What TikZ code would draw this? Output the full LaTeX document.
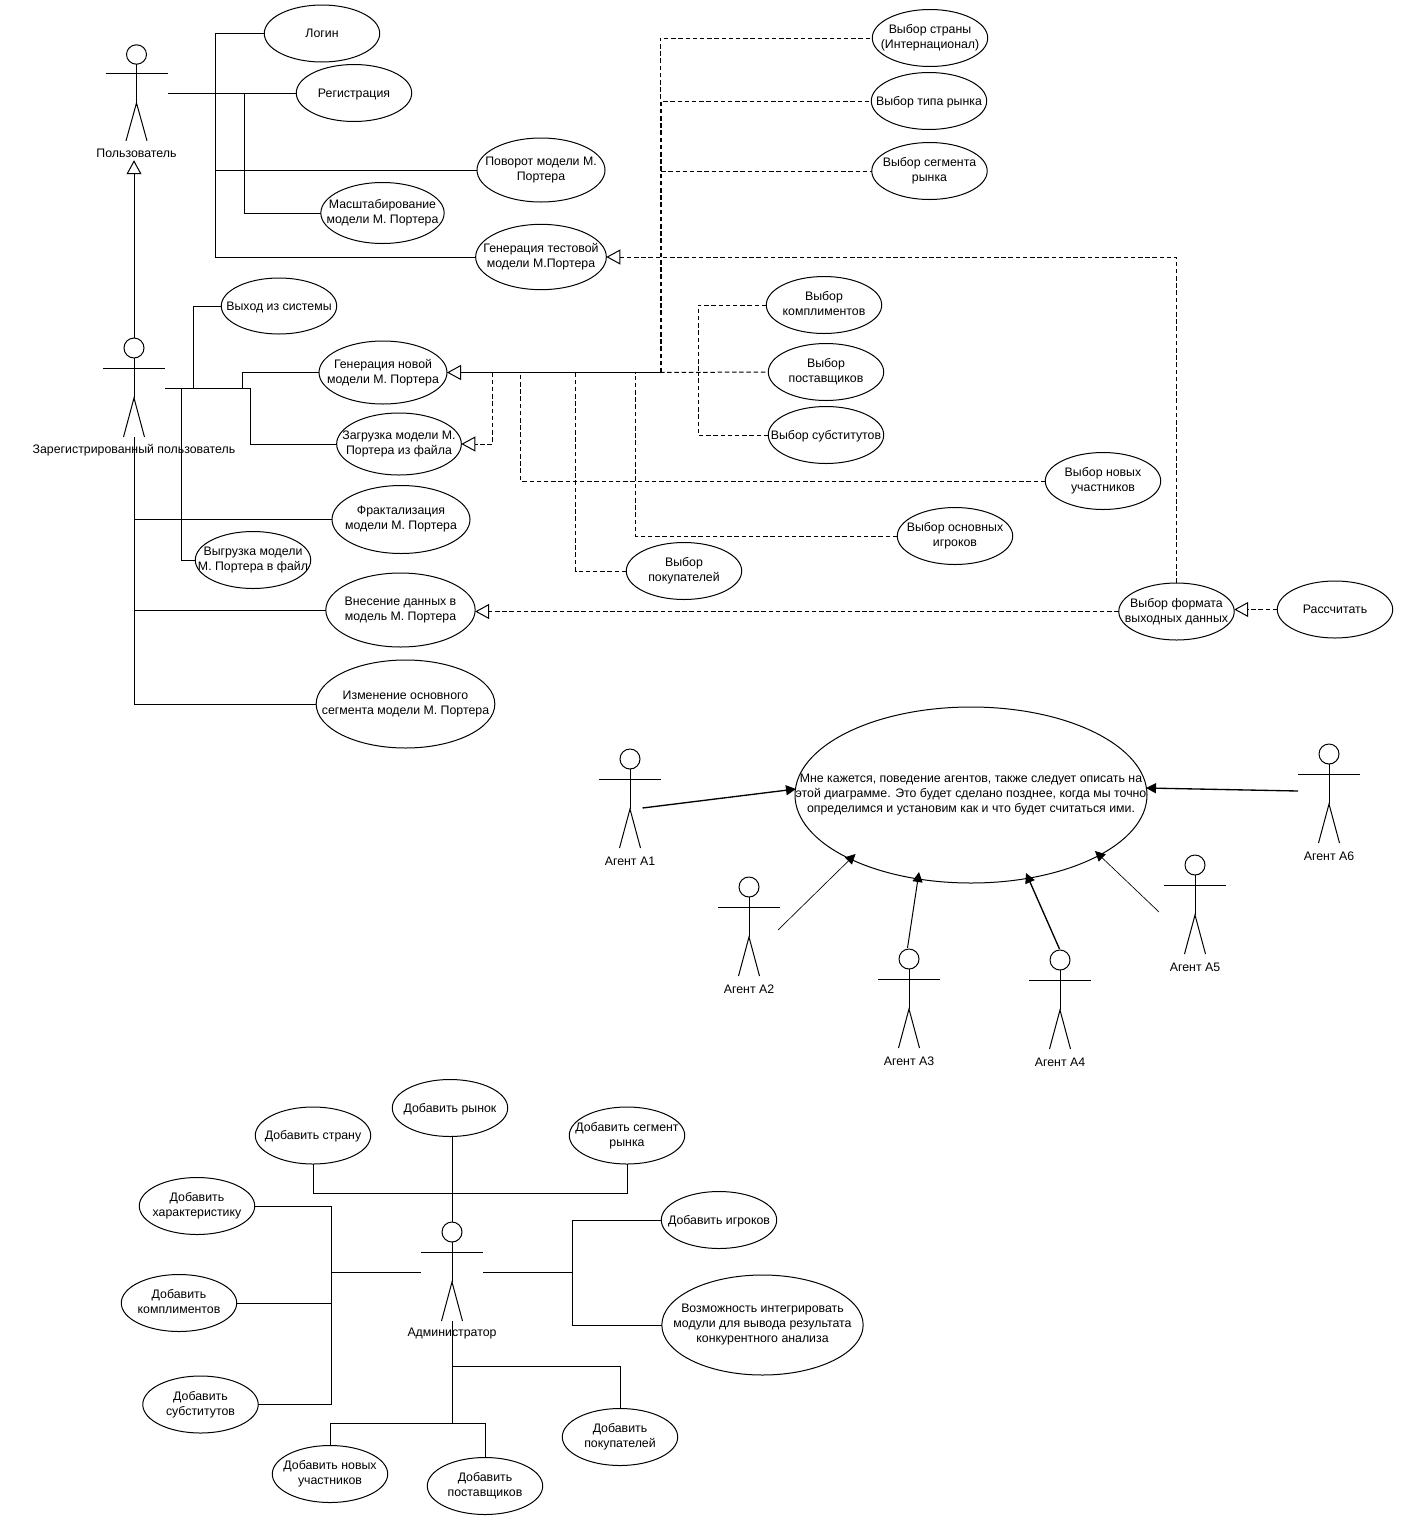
\documentclass[tikz,border=0pt]{standalone}
\usepackage{fontspec}
\setmainfont{Liberation Sans}
\usetikzlibrary{arrows.meta,shapes.geometric}
\tikzset{
	usecase/.style = {draw, ellipse, align=center, inner sep=-50pt, outer sep=0pt, minimum width=86.6pt, minimum height=42.75pt,
		execute at begin node={\rule{0pt}{8.5pt}}, execute at end node={\rule[-2pt]{0pt}{0pt}}},
	assoc/.style = {-{Triangle[length=7.5pt,width=7.5pt]}},
	gen/.style = {-{Triangle[open,length=10.5pt,width=11.25pt]}},
	dep/.style = {dash pattern=on 3.4pt off 2pt},
	actor/.pic = {
		\draw (0,0) circle (7.5pt);
		\draw (0,10) -- (0,50) (-31,20) -- (31,20);
		\draw (-10.5,89) -- (0,50) -- (10.5,89);
		\coordinate (-top) at (0,-10);
		\coordinate (-bot) at (0,89);
		\coordinate (-left) at (-31,40);
		\coordinate (-right) at (31,40);
		\coordinate (-under) at (0,109);
		\node[inner sep=0pt] (-label) at (0,102) {#1};
	}
}
\begin{document}
\begin{tikzpicture}[x=.75pt, y=-.75pt, line width=.75pt, font=\fontsize{9.25}{11.25}\selectfont]
\useasboundingbox (0,0) rectangle (1413,1535);
%user
\pic[yscale=.97] (user) at (136.5,54.5) {actor={Пользователь}};
\node[usecase] (login) at (322,33.5) {Логин};
\node[usecase] (regist) at (354,93) {Регистрация};
\node[usecase, minimum width=96pt, minimum height=48pt] (turn) at (541,170) {Поворот модели М.\\Портера};
\node[usecase, minimum width=92.5pt, minimum height=45.75pt] (zoom) at (382.5,213) {Масштабирование\\модели М. Портера};
\node[usecase, minimum width=98pt, minimum height=49pt] (gentest) at (541,257) {Генерация тестовой\\модели М.Портера};
\coordinate (ubus) at (215.5,93);
\coordinate (zbus) at (244.5,93);
\draw (user-right) -- (user-right -| regist.west);
\draw (login.west) -| (ubus);
\draw (turn.west) -| (ubus);
\draw (gentest.west) -| (ubus);
\draw (zoom.west) -| (zbus);
%registered user
\pic (reg) at (134,348) {actor={Зарегистрированный пользователь}};
\draw[gen] (reg-top) -- (reg-top |- user-under);
\node[usecase, minimum height=42pt] (logout) at (279,306) {Выход из системы};
\node[usecase, minimum width=96pt, minimum height=47.25pt] (gennew) at (383,372.5) {Генерация новой\\модели М. Портера};
\node[usecase, minimum width=93.5pt, minimum height=46.5pt] (load) at (399,444) {Загрузка модели М.\\Портера из файла};
\node[usecase, minimum width=103.5pt, minimum height=51pt] (fract) at (401,519.5) {Фрактализация\\модели М. Портера};
\node[usecase] (unload) at (253,560) {Выгрузка модели\\М. Портера в файл};
\node[usecase, minimum width=112pt, minimum height=55.5pt] (enter) at (400.5,610) {Внесение данных в\\модель М. Портера};
\node[usecase, minimum width=134pt, minimum height=66pt] (change) at (405.5,704) {Изменение основного\\сегмента модели М. Портера};
\coordinate (rbusa) at (181,388);
\coordinate (rbusb) at (193,388);
\coordinate (rbusc) at (242,388);
\coordinate (rbusd) at (250,388);
\draw (reg-right) -- (rbusd) |- (load.west);
\draw (logout.west) -| (rbusb);
\draw (gennew.west) -| (rbusc);
\draw (unload.west) -| (rbusa);
\draw (reg-bot) |- (change.west);
\draw (fract.west) -| (reg-bot);
\draw (enter.west) -| (reg-bot);
%choices
\node[usecase] (country) at (930,38) {Выбор страны\\(Интернационал)};
\node[usecase] (market) at (929,101) {Выбор типа рынка};
\node[usecase] (segment) at (929.5,171) {Выбор сегмента\\рынка};
\node[usecase] (compl) at (824,305) {Выбор\\комплиментов};
\node[usecase] (suppl) at (826,372) {Выбор\\поставщиков};
\node[usecase] (subst) at (826,435) {Выбор субститутов};
\node[usecase] (newpl) at (1103,481) {Выбор новых\\участников};
\node[usecase] (mainpl) at (955,536) {Выбор основных\\игроков};
\node[usecase] (buyer) at (684,571) {Выбор\\покупателей};
\node[usecase] (format) at (1176.5,611.5) {Выбор формата\\выходных данных};
\node[usecase] (calc) at (1335,609.5) {Рассчитать};
\coordinate (nbus) at (660,372.5);
\coordinate (nbusb) at (661,372.5);
\coordinate (cbus) at (698,372.5);
\draw[gen] (nbus) -- (gennew.east);
\draw[dep] (nbus) |- (country.west);
\foreach \x in {market,segment}{
	\draw[dep] (nbusb) |- (\x.west);
	}
\draw[dep] (nbus) -- (suppl.west);
\draw[dep] (compl.west) -| (cbus);
\draw[dep] (subst.west) -| (cbus);
\draw[dep] (newpl.west) -| (520.5,372.5);
\draw[dep] (mainpl.west) -| (635.5,372.5);
\draw[dep] (buyer.west) -| (575.5,372.5);
\draw[dep, gen] (492.5,372.5) |- (load.east);
\draw[dep, gen] (format.north) |- (gentest.east);
\draw[dep, gen] (format.west) -- (format.west -| enter.east);
\draw[dep, gen] (calc.west) -- (calc.west -| format.east);
%agents
\node[usecase, minimum width=264pt, minimum height=132pt] (note) at (971,795) {Мне кажется, поведение агентов, также следует описать на\\этой диаграмме. Это будет сделано позднее, когда мы точно\\определимся и установим как и что будет считаться ими.};
\foreach \i/\x/\y in {1/630/759,2/749/887,3/909/959,4/1060/960,5/1195/865,6/1329/754}{
	\pic (agent\i) at (\x,\y) {actor={Агент А\i}};
	}
\foreach \i/\xa/\ya/\xb/\yb/\w in {1/642.5/808/796/789/1,2/778/930/855.5/854/.5,3/907.5/948/919/872/.75,4/1059.5/949/1026/873/1,5/1159/912/1095/851/.5,6/1298/791/1146/788/1}{
	\coordinate (start\i) at (\xa,\ya);
	\coordinate (end\i) at (\xb,\yb);
	\draw[assoc, line width=\w pt] (start\i) -- (end\i);
	}
%administrator
\pic (admin) at (452,1232) {actor={Администратор}};
\node[usecase] (addcountry) at (313,1135.5) {Добавить страну};
\node[usecase] (addmarket) at (450,1108) {Добавить рынок};
\node[usecase] (addsegment) at (627,1135.5) {Добавить сегмент\\рынка};
\node[usecase] (addchar) at (197,1206) {Добавить\\характеристику};
\node[usecase] (addcompl) at (179,1303) {Добавить\\комплиментов};
\node[usecase] (addsubst) at (200.5,1404.5) {Добавить\\субститутов};
\node[usecase] (addplay) at (719,1220) {Добавить игроков};
\node[usecase, minimum width=151pt, minimum height=75pt] (addmod) at (762.5,1325) {Возможность интегрировать\\модули для вывода результата\\конкурентного анализа};
\node[usecase] (addnew) at (330,1474) {Добавить новых\\участников};
\node[usecase] (addsuppl) at (485,1486) {Добавить\\поставщиков};
\node[usecase] (addbuyer) at (620,1437) {Добавить\\покупателей};
\coordinate (topbus) at (452,1193);
\coordinate (leftbus) at (331,1272);
\coordinate (rightbus) at (572,1272);
\coordinate (midbus) at (452,1366);
\coordinate (lowbus) at (452,1423);
\draw (admin-top) -- (admin-top |- addmarket.south);
\draw (addcountry.south) |- (topbus) -| (addsegment.south);
\draw (admin-left) -- (leftbus);
\draw (addchar.east) -| (leftbus);
\draw (addsubst.east) -| (leftbus);
\draw (addcompl.east) -- (addcompl.east -| leftbus);
\draw (admin-right) -- (rightbus);
\draw (addplay.west) -| (rightbus);
\draw (addmod.west) -| (rightbus);
\draw (admin-bot) -- (lowbus);
\draw (addnew.north) |- (lowbus);
\draw (addsuppl.north) |- (lowbus);
\draw (addbuyer.north) |- (midbus);
\end{tikzpicture}
\end{document}
